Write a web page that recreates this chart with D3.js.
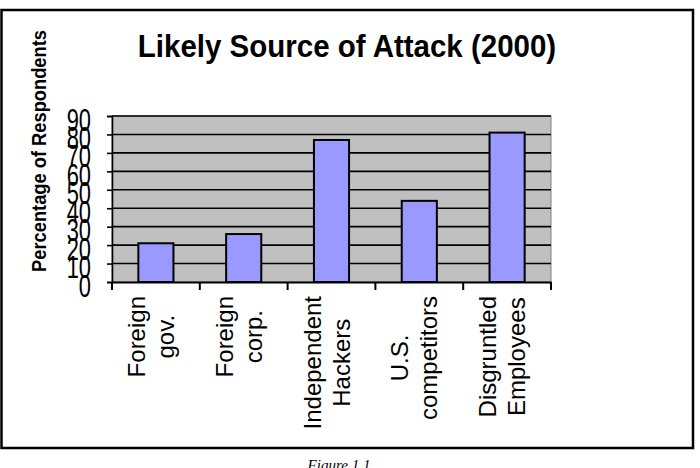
<!DOCTYPE html>
<html>
<head>
<meta charset="utf-8">
<script src="https://cdn.jsdelivr.net/npm/d3@7"></script>
<style>
  body { margin: 0; background: #fff; }
  svg { display: block; }
</style>
</head>
<body>
<div id="chart"></div>
<script>
const categories = ["Foreign gov.", "Foreign corp.", "Independent Hackers", "U.S. competitors", "Disgruntled Employees"];
const labelLines = [["Foreign", "gov."], ["Foreign", "corp."], ["Independent", "Hackers"], ["U.S.", "competitors"], ["Disgruntled", "Employees"]];
const values = [21, 26, 77, 44, 81];
const yTicks = [0, 10, 20, 30, 40, 50, 60, 70, 80, 90];

const W = 700, H = 468;
const plot = {left: 112, right: 551, top: 116, bottom: 282};

const svg = d3.select('#chart').append('svg')
  .attr('width', W)
  .attr('height', H);

// outer frame
svg.append('rect')
  .attr('x', 1.5).attr('y', 10)
  .attr('width', 691.5).attr('height', 438)
  .attr('fill', 'none')
  .attr('stroke', '#000')
  .attr('stroke-width', 2.5);

const x = d3.scaleBand()
  .domain(categories)
  .range([plot.left, plot.right])
  .paddingInner(0.6)
  .paddingOuter(0.3);

const xEdges = d3.scaleBand()
  .domain(categories)
  .range([plot.left, plot.right]);

const y = d3.scaleLinear()
  .domain([0, 90])
  .range([plot.bottom, plot.top]);

// plot background
svg.append('rect')
  .attr('x', plot.left).attr('y', plot.top)
  .attr('width', plot.right - plot.left)
  .attr('height', plot.bottom - plot.top)
  .attr('fill', '#c0c0c0')
  .attr('stroke', '#808080')
  .attr('stroke-width', 1);

// gridlines
svg.selectAll('.grid')
  .data(yTicks.filter(d => d > 0))
  .enter().append('line')
  .attr('class', 'grid')
  .attr('x1', plot.left).attr('x2', plot.right)
  .attr('y1', d => y(d)).attr('y2', d => y(d))
  .attr('stroke', '#000')
  .attr('stroke-width', 1.6);

// bars
svg.selectAll('.bar')
  .data(values)
  .enter().append('rect')
  .attr('class', 'bar')
  .attr('x', (d, i) => x(categories[i]))
  .attr('y', d => y(d))
  .attr('width', x.bandwidth())
  .attr('height', d => y(0) - y(d))
  .attr('fill', '#9999ff')
  .attr('stroke', '#000')
  .attr('stroke-width', 2);

// y axis
const yAxis = svg.append('g')
  .attr('transform', `translate(${plot.left},0)`)
  .call(d3.axisLeft(y).tickValues(yTicks).tickSize(5).tickFormat(''));
yAxis.selectAll('path, line').attr('stroke', '#000').attr('stroke-width', 1.6);

// tick labels are tall and narrow, and overlap like the original
svg.selectAll('.ylab')
  .data(yTicks)
  .enter().append('text')
  .attr('class', 'ylab')
  .attr('transform', d => `translate(91,${y(d) + 3}) scale(0.95,1.4)`)
  .attr('dy', '0.36em')
  .attr('text-anchor', 'end')
  .attr('font-family', 'Liberation Sans, Arial, sans-serif')
  .attr('font-size', 23)
  .attr('fill', '#000')
  .text(d => d);

// x axis
const xAxis = svg.append('g')
  .attr('transform', `translate(0,${plot.bottom})`)
  .call(d3.axisBottom(xEdges).tickSize(0).tickFormat(''));
xAxis.select('path').attr('stroke', '#000').attr('stroke-width', 2);

const edges = categories.map(c => xEdges(c)).concat([plot.right]);
svg.selectAll('.xtick')
  .data(edges)
  .enter().append('line')
  .attr('class', 'xtick')
  .attr('x1', d => d).attr('x2', d => d)
  .attr('y1', plot.bottom).attr('y2', plot.bottom + 8)
  .attr('stroke', '#000')
  .attr('stroke-width', 2);

// category labels, rotated, two lines each
const labelTop = 296;
labelLines.forEach((lines, i) => {
  const cx = xEdges(categories[i]) + xEdges.bandwidth() / 2;
  const g = svg.append('g');
  const texts = lines.map((t, j) => g.append('text')
    .attr('text-anchor', 'middle')
    .attr('font-family', 'Liberation Sans, Arial, sans-serif')
    .attr('font-size', 24)
    .attr('fill', '#000')
    .text(t));
  const maxLen = d3.max(texts, t => t.node().getComputedTextLength());
  const cy = labelTop + maxLen / 2;
  texts.forEach((t, j) => {
    const bx = cx + (j === 0 ? -11 : 18);
    t.attr('transform', `translate(${bx},${cy}) rotate(-90)`);
  });
});

// title
svg.append('text')
  .attr('transform', 'translate(347,57) scale(1,1.07)')
  .attr('text-anchor', 'middle')
  .attr('font-family', 'Liberation Sans, Arial, sans-serif')
  .attr('font-weight', 'bold')
  .attr('font-size', 29.5)
  .attr('fill', '#000')
  .text('Likely Source of Attack (2000)');

// y axis title
svg.append('text')
  .attr('transform', 'translate(46,151) rotate(-90) scale(1,1.1)')
  .attr('text-anchor', 'middle')
  .attr('font-family', 'Liberation Sans, Arial, sans-serif')
  .attr('font-weight', 'bold')
  .attr('font-size', 18.3)
  .attr('fill', '#000')
  .text('Percentage of Respondents');

// caption
svg.append('text')
  .attr('x', 339).attr('y', 470)
  .attr('text-anchor', 'middle')
  .attr('font-family', 'Liberation Serif, Times New Roman, serif')
  .attr('font-style', 'italic')
  .attr('font-size', 15)
  .attr('fill', '#000')
  .text('Figure 1.1');
</script>
</body>
</html>
